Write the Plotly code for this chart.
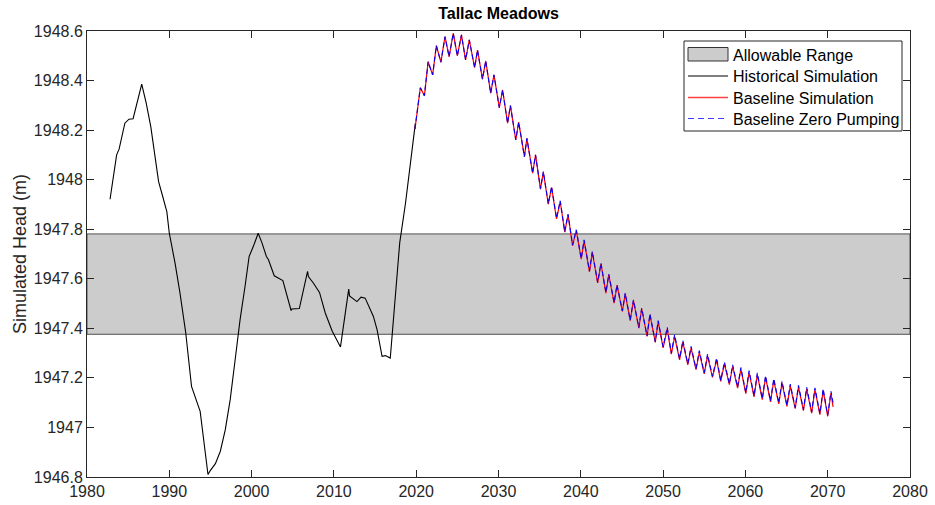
import plotly.graph_objects as go

# ---------------- data ----------------
allowable_years = [1980, 2080]
allowable_range = [1947.376, 1947.781]  # [low, high]

hist_years = [1982.8, 1983.2, 1983.6, 1983.9, 1984.6, 1985.1, 1985.6, 1986.65, 1987.2, 1987.75,
              1988.15, 1988.7, 1989.2, 1989.7, 1990.0, 1990.7, 1991.3, 1992.0, 1992.7, 1993.75,
              1994.7, 1995.0, 1995.6, 1996.2, 1996.8, 1997.4, 1998.0, 1998.6, 1999.2, 1999.7,
              2000.2, 2000.8, 2001.25, 2001.8, 2002.05, 2002.75, 2003.8, 2004.8, 2004.9, 2005.8,
              2006.8, 2006.9, 2007.5, 2008.25, 2008.95, 2009.8, 2010.8, 2011.8, 2011.9, 2012.8,
              2013.3, 2013.8, 2014.8, 2015.25, 2015.85, 2016.25, 2016.85, 2017.9, 2018.0, 2018.7,
              2019.1, 2019.5, 2019.9]
hist_head = [1947.921, 1948.006, 1948.100, 1948.123, 1948.228, 1948.244, 1948.246, 1948.386, 1948.308, 1948.214,
             1948.120, 1947.992, 1947.932, 1947.871, 1947.784, 1947.663, 1947.542, 1947.381, 1947.166, 1947.065,
             1946.810, 1946.827, 1946.854, 1946.904, 1946.990, 1947.112, 1947.273, 1947.435, 1947.569, 1947.690,
             1947.730, 1947.784, 1947.746, 1947.690, 1947.677, 1947.612, 1947.593, 1947.472, 1947.478, 1947.480,
             1947.630, 1947.609, 1947.583, 1947.545, 1947.462, 1947.388, 1947.325, 1947.558, 1947.531, 1947.508,
             1947.526, 1947.522, 1947.448, 1947.394, 1947.287, 1947.290, 1947.280, 1947.737, 1947.746, 1947.905,
             1948.012, 1948.120, 1948.228]

proj_years = [2019.85, 2020.5, 2021.0, 2021.45, 2022.0, 2022.45, 2023.0, 2023.5, 2024.0, 2024.5,
              2025.0, 2025.5, 2026.0, 2026.45, 2027.1, 2027.45, 2028.05, 2028.45, 2029.05, 2029.45,
              2030.1, 2030.5, 2031.1, 2031.45, 2032.1, 2032.45, 2033.15, 2033.45, 2034.15, 2034.5,
              2035.1, 2035.45, 2036.05, 2036.45, 2037.05, 2037.5, 2038.05, 2038.45, 2039.0, 2039.45,
              2040.05, 2040.4, 2041.05, 2041.4, 2042.05, 2042.45, 2043.05, 2043.4, 2044.05, 2044.4,
              2045.05, 2045.4, 2046.0, 2046.4, 2047.05, 2047.4, 2048.05, 2048.4, 2049.05, 2049.4,
              2050.0, 2050.5, 2051.0, 2051.4, 2052.0, 2052.4, 2053.0, 2053.4, 2054.0, 2054.4,
              2055.0, 2055.4, 2056.0, 2056.5, 2057.0, 2057.45, 2058.05, 2058.45, 2059.05, 2059.45,
              2060.05, 2060.45, 2061.05, 2061.45, 2062.05, 2062.45, 2063.05, 2063.45, 2064.05, 2064.45,
              2065.05, 2065.45, 2066.05, 2066.45, 2067.05, 2067.45, 2068.05, 2068.45, 2069.05, 2069.45,
              2070.0, 2070.4, 2070.65]

baseline_head = [1948.205, 1948.371, 1948.339, 1948.476, 1948.423, 1948.541, 1948.474, 1948.577, 1948.496, 1948.591,
                 1948.500, 1948.584, 1948.483, 1948.564, 1948.452, 1948.523, 1948.406, 1948.479, 1948.349, 1948.423,
                 1948.291, 1948.362, 1948.228, 1948.299, 1948.160, 1948.232, 1948.093, 1948.167, 1948.026, 1948.100,
                 1947.962, 1948.030, 1947.901, 1947.969, 1947.842, 1947.912, 1947.788, 1947.858, 1947.734, 1947.795,
                 1947.679, 1947.754, 1947.629, 1947.707, 1947.583, 1947.660, 1947.542, 1947.616, 1947.502, 1947.573,
                 1947.468, 1947.539, 1947.431, 1947.512, 1947.401, 1947.479, 1947.367, 1947.455, 1947.343, 1947.428,
                 1947.321, 1947.397, 1947.296, 1947.367, 1947.273, 1947.344, 1947.253, 1947.320, 1947.233, 1947.303,
                 1947.216, 1947.289, 1947.202, 1947.273, 1947.186, 1947.257, 1947.173, 1947.246, 1947.159, 1947.235,
                 1947.136, 1947.222, 1947.123, 1947.213, 1947.112, 1947.202, 1947.103, 1947.190, 1947.095, 1947.179,
                 1947.085, 1947.168, 1947.076, 1947.163, 1947.068, 1947.155, 1947.058, 1947.153, 1947.052, 1947.149,
                 1947.045, 1947.139, 1947.083]

zero_pumping_head = [1948.205, 1948.371, 1948.339, 1948.476, 1948.423, 1948.541, 1948.474, 1948.577, 1948.496, 1948.591,
                     1948.500, 1948.584, 1948.483, 1948.564, 1948.452, 1948.523, 1948.406, 1948.479, 1948.349, 1948.423,
                     1948.291, 1948.362, 1948.228, 1948.299, 1948.160, 1948.232, 1948.093, 1948.167, 1948.026, 1948.100,
                     1947.964, 1948.033, 1947.903, 1947.972, 1947.844, 1947.915, 1947.790, 1947.861, 1947.736, 1947.798,
                     1947.681, 1947.757, 1947.631, 1947.710, 1947.585, 1947.663, 1947.544, 1947.619, 1947.504, 1947.576,
                     1947.470, 1947.542, 1947.433, 1947.515, 1947.403, 1947.482, 1947.369, 1947.458, 1947.345, 1947.431,
                     1947.325, 1947.404, 1947.300, 1947.374, 1947.277, 1947.351, 1947.257, 1947.327, 1947.237, 1947.310,
                     1947.220, 1947.296, 1947.206, 1947.280, 1947.190, 1947.264, 1947.177, 1947.253, 1947.163, 1947.242,
                     1947.140, 1947.229, 1947.127, 1947.220, 1947.116, 1947.209, 1947.107, 1947.197, 1947.099, 1947.186,
                     1947.089, 1947.175, 1947.080, 1947.170, 1947.072, 1947.162, 1947.062, 1947.160, 1947.056, 1947.156,
                     1947.049, 1947.146, 1947.100]

x_ticks = [1980, 1990, 2000, 2010, 2020, 2030, 2040, 2050, 2060, 2070, 2080]
y_ticks = [1946.8, 1947.0, 1947.2, 1947.4, 1947.6, 1947.8, 1948.0, 1948.2, 1948.4, 1948.6]
y_tick_labels = ["1946.8", "1947", "1947.2", "1947.4", "1947.6", "1947.8", "1948", "1948.2", "1948.4", "1948.6"]

legend_names = ["Allowable Range", "Historical Simulation", "Baseline Simulation", "Baseline Zero Pumping"]

assert len(hist_years) == len(hist_head)
assert len(proj_years) == len(baseline_head) == len(zero_pumping_head)

# ---------------- styling / layout ----------------
FONT = "Liberation Sans, Arial, sans-serif"
AX = "#262626"
FILL = "#cccccc"
EDGE = "#505050"
RED = "#ff0000"
BLUE = "#0000ff"

W, H = 935, 505
ML, MR, MT, MB = 87, 25, 31, 28
PW, PH = W - ML - MR, H - MT - MB


def px_x(p):  # figure pixel -> paper x
    return (p - ML) / PW


def px_y(p):  # figure pixel -> paper y
    return 1 - (p - MT) / PH


fig = go.Figure()

lo, hi = allowable_range
fig.add_trace(go.Scatter(
    x=[allowable_years[0], allowable_years[1], allowable_years[1], allowable_years[0], allowable_years[0]],
    y=[lo, lo, hi, hi, lo],
    fill="toself", fillcolor=FILL, mode="lines",
    line=dict(color=EDGE, width=1),
    name=legend_names[0], hoverinfo="skip", showlegend=False))

fig.add_trace(go.Scatter(x=hist_years, y=hist_head, mode="lines",
                         line=dict(color="black", width=1.1), name=legend_names[1], showlegend=False))
fig.add_trace(go.Scatter(x=proj_years, y=baseline_head, mode="lines",
                         line=dict(color=RED, width=1.2), name=legend_names[2], showlegend=False))
fig.add_trace(go.Scatter(x=proj_years, y=zero_pumping_head, mode="lines",
                         line=dict(color=BLUE, width=1.1, dash="5px,3px"), name=legend_names[3],
                         showlegend=False))

# ---- manual legend (box, symbols, texts) ----
shapes = []
annotations = []
shapes.append(dict(type="rect", xref="paper", yref="paper",
                   x0=px_x(684), x1=px_x(902), y0=px_y(131), y1=px_y(41),
                   line=dict(color=AX, width=1), fillcolor="white", layer="above"))
sx0, sx1 = px_x(688), px_x(728)
shapes.append(dict(type="rect", xref="paper", yref="paper",
                   x0=sx0, x1=sx1, y0=px_y(61), y1=px_y(47.5),
                   line=dict(color="#333333", width=1), fillcolor=FILL, layer="above"))
legend_rows = [54.5, 76, 97.5, 118.5]
line_styles = [None, dict(color="black", width=1.1), dict(color="#ff4040", width=1.3),
               dict(color="#4040ff", width=1.1, dash="6px,4px")]
for yy, st in zip(legend_rows[1:], line_styles[1:]):
    shapes.append(dict(type="line", xref="paper", yref="paper",
                       x0=sx0, x1=sx1, y0=px_y(yy), y1=px_y(yy), line=st, layer="above"))
for yy, name in zip(legend_rows, legend_names):
    annotations.append(dict(text=name, xref="paper", yref="paper", x=px_x(731), y=px_y(yy + 1),
                            xanchor="left", yanchor="middle", showarrow=False,
                            font=dict(family=FONT, size=16, color="black")))

axis_common = dict(showline=True, linecolor=AX, linewidth=1, mirror="ticks",
                   ticks="inside", ticklen=7, tickwidth=1, tickcolor=AX,
                   showgrid=False, zeroline=False, automargin=False,
                   tickfont=dict(family=FONT, size=16, color=AX))

fig.update_layout(
    template="none",
    width=W, height=H,
    margin=dict(l=ML, r=MR, t=MT, b=MB),
    paper_bgcolor="white", plot_bgcolor="white",
    font=dict(family=FONT, size=16, color=AX),
    title=dict(text="<b>Tallac Meadows</b>", x=0.5, xref="paper", xanchor="center",
               y=1 - 13.5 / H, yref="container", yanchor="middle", pad=dict(t=0, b=0),
               font=dict(family=FONT, size=16, color="black")),
    xaxis=dict(range=[1980, 2080], tickvals=x_ticks, ticktext=[str(v) for v in x_ticks], **axis_common),
    yaxis=dict(range=[1946.8, 1948.6], tickvals=y_ticks, ticktext=y_tick_labels,
               title=dict(text="Simulated Head (m)", font=dict(family=FONT, size=18, color=AX), standoff=2),
               **axis_common),
    shapes=shapes,
    annotations=annotations,
    showlegend=False,
)

# remove the default 8px page margin so the 935x505 figure fills the window exactly
fig.write_html("out.html", config={"displayModeBar": False},
               post_script="document.body.style.margin='0px';")
